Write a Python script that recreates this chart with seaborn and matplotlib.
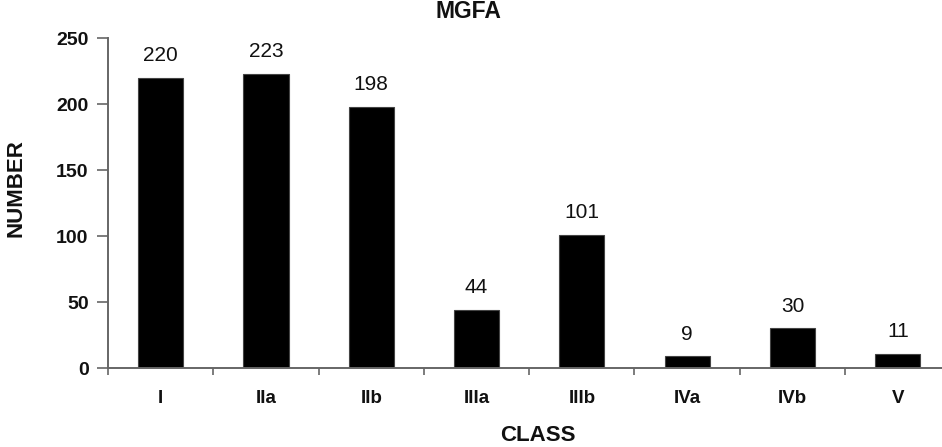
import numpy as np
import pandas as pd
import matplotlib.pyplot as plt
import seaborn as sns

# Datos
classes = ['I', 'IIa', 'IIb', 'IIIa', 'IIIb', 'IVa', 'IVb', 'V']
numbers = [220, 223, 198, 44, 101, 9, 30, 11]

df = pd.DataFrame({'CLASS': classes, 'NUMBER': numbers})

sns.set_style('white')
plt.rcParams['font.family'] = ['Liberation Sans', 'DejaVu Sans']

fig = plt.figure(figsize=(9.42, 4.47), dpi=100)
ax = fig.add_axes([0.1146, 0.1767, 0.8854, 0.738])

sns.barplot(data=df, x='CLASS', y='NUMBER', color='black', width=0.43,
            saturation=1, ax=ax)
for p in ax.patches:
    p.set_edgecolor('#444444')
    p.set_linewidth(0.8)

# Etiquetas de valor sobre cada barra
for i, v in enumerate(numbers):
    ax.annotate(str(v), (i, v), xytext=(0, 9), textcoords='offset points',
                ha='center', va='bottom', fontsize=15, color='#111111')

ax.set_ylim(0, 250)
ax.set_xlim(-0.5, 7.42)
ax.set_yticks(range(0, 251, 50))
ax.set_xticks(np.arange(-0.5, 7.5, 1), minor=True)
ax.tick_params(axis='x', which='major', bottom=False, length=0, pad=16, labelsize=13.5)
ax.tick_params(axis='x', which='minor', bottom=True, length=5, width=1.2,
               color='#666666', direction='out')
ax.tick_params(axis='y', left=True, length=8, width=1.2, color='#666666',
               direction='out', pad=6, labelsize=14)
for lab in ax.get_xticklabels() + ax.get_yticklabels():
    lab.set_fontweight('bold')
    lab.set_color('#111111')

sns.despine(ax=ax)
for s in ['left', 'bottom']:
    ax.spines[s].set_color('#666666')
    ax.spines[s].set_linewidth(1.4)

ax.set_xlabel('')
ax.set_ylabel('')
fig.text(0.571, 0.025, 'CLASS', fontsize=16, fontweight='bold', color='#111111',
         ha='center', va='center')
fig.text(0.017, 0.58, 'NUMBER', fontsize=16, fontweight='bold', color='#111111',
         rotation=90, ha='center', va='center')
fig.text(0.497, 0.975, 'MGFA', fontsize=16.5, fontweight='bold', color='#111111',
         ha='center', va='center')

plt.savefig('out.png', dpi=100)
